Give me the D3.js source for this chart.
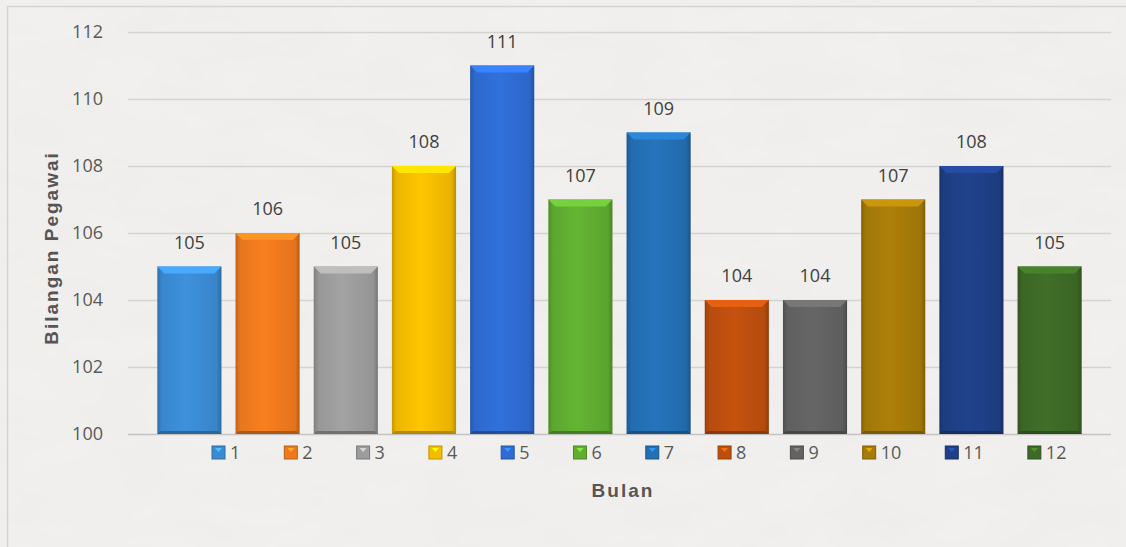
<!DOCTYPE html>
<html>
<head>
<meta charset="utf-8">
<script src="https://cdn.jsdelivr.net/npm/d3@7"></script>
<style>
  html, body { margin: 0; padding: 0; background: #f1f0ee; }
  svg { display: block; font-family: 'Open Sans', 'Noto Sans', sans-serif; }
</style>
</head>
<body>
<div id="chart"></div>
<script>
// data
const months = ['1', '2', '3', '4', '5', '6', '7', '8', '9', '10', '11', '12'];
const employees = [105, 106, 105, 108, 111, 107, 109, 104, 104, 107, 108, 105];
const yTicks = [100, 102, 104, 106, 108, 110, 112];

const barColors = ['#3b8bd3', '#ef7a1e', '#9c9c9c', '#f5bd00', '#2f6cd3', '#60ad31',
  '#246fb4', '#bd4f0e', '#626262', '#a67b08', '#1f3f86', '#3d6a26'];

const W = 1126, H = 547;
const margin = { top: 32, right: 15, bottom: 113, left: 128 };

const svg = d3.select('#chart').append('svg')
  .attr('width', W)
  .attr('height', H);

const defs = svg.append('defs');

// paper texture
const tex = defs.append('filter').attr('id', 'paper')
  .attr('x', 0).attr('y', 0).attr('width', '100%').attr('height', '100%');
tex.append('feTurbulence').attr('type', 'fractalNoise')
  .attr('baseFrequency', '0.012 0.03').attr('numOctaves', 3).attr('seed', 4);
tex.append('feColorMatrix').attr('type', 'matrix')
  .attr('values', '0 0 0 0 0.55  0 0 0 0 0.55  0 0 0 0 0.53  0 0 0 0.09 0');

svg.append('rect').attr('width', W).attr('height', H).attr('fill', '#f2f1ef');
svg.append('rect').attr('width', W).attr('height', H).attr('filter', 'url(#paper)');

// chart frame
svg.append('rect')
  .attr('x', 7.5).attr('y', 6.5)
  .attr('width', W + 20).attr('height', H + 20)
  .attr('fill', 'none')
  .attr('stroke', '#d4d4d4')
  .attr('stroke-width', 1.5);

const x = d3.scaleBand()
  .domain(months)
  .range([margin.left, W - margin.right])
  .paddingInner(0.18)
  .paddingOuter(0.375);

const y = d3.scaleLinear()
  .domain([100, 112])
  .range([H - margin.bottom, margin.top]);

// gridlines
svg.append('g')
  .selectAll('line')
  .data(yTicks)
  .enter().append('line')
  .attr('x1', margin.left)
  .attr('x2', W - margin.right)
  .attr('y1', (d) => Math.round(y(d)) + 0.5)
  .attr('y2', (d) => Math.round(y(d)) + 0.5)
  .attr('stroke', (d) => d === 100 ? '#c4c4c4' : '#d3d3d3')
  .attr('stroke-width', 1.5);

// y axis labels
const yAxis = svg.append('g')
  .attr('transform', `translate(${margin.left}, 0)`)
  .call(d3.axisLeft(y).tickValues(yTicks).tickSize(0).tickPadding(25));
yAxis.select('.domain').remove();
yAxis.selectAll('text')
  .attr('fill', '#595959')
  .style('font-size', '18px')
  .style('font-family', "'Open Sans', sans-serif");

// bar gradients
barColors.forEach((c, i) => {
  const base = d3.color(c);
  const g = defs.append('linearGradient').attr('id', `bar${i}`)
    .attr('x1', 0).attr('x2', 1).attr('y1', 0).attr('y2', 0);
  g.append('stop').attr('offset', '0%').attr('stop-color', base.darker(0.6));
  g.append('stop').attr('offset', '7%').attr('stop-color', base.darker(0.1));
  g.append('stop').attr('offset', '45%').attr('stop-color', base.brighter(0.12));
  g.append('stop').attr('offset', '93%').attr('stop-color', base.darker(0.15));
  g.append('stop').attr('offset', '100%').attr('stop-color', base.darker(0.8));
});

const bars = svg.append('g')
  .selectAll('g')
  .data(months.map((m, i) => ({ key: m, value: employees[i], i })))
  .enter().append('g');

bars.append('rect')
  .attr('x', (d) => x(d.key))
  .attr('y', (d) => y(d.value))
  .attr('width', x.bandwidth())
  .attr('height', (d) => y(100) - y(d.value))
  .attr('fill', (d) => `url(#bar${d.i})`);

// top bevel
const bev = 7;
bars.append('path')
  .attr('d', (d) => {
    const x0 = x(d.key), x1 = x0 + x.bandwidth(), y0 = y(d.value);
    return `M${x0},${y0}L${x1},${y0}L${x1 - bev},${y0 + bev}L${x0 + bev},${y0 + bev}Z`;
  })
  .attr('fill', (d) => d3.color(barColors[d.i]).brighter(0.55));

// bottom edge
bars.append('path')
  .attr('d', (d) => {
    const x0 = x(d.key), x1 = x0 + x.bandwidth(), y1 = y(100);
    return `M${x0},${y1}L${x1},${y1}L${x1 - 3},${y1 - 3}L${x0 + 3},${y1 - 3}Z`;
  })
  .attr('fill', (d) => d3.color(barColors[d.i]).darker(0.9));

// data labels
bars.append('text')
  .attr('x', (d) => x(d.key) + x.bandwidth() / 2)
  .attr('y', (d) => y(d.value) - 18)
  .attr('text-anchor', 'middle')
  .attr('fill', '#404040')
  .style('font-size', '18px')
  .text((d) => d.value);

// legend
const legend = svg.append('g').attr('transform', 'translate(212, 453)');
let lx = 0;
months.forEach((m, i) => {
  const item = legend.append('g').attr('transform', `translate(${lx}, 0)`);
  const c = d3.color(barColors[i]);
  item.append('rect')
    .attr('x', 0).attr('y', -7)
    .attr('width', 13).attr('height', 13)
    .attr('fill', c)
    .attr('stroke', c.darker(0.7))
    .attr('stroke-width', 1);
  item.append('path')
    .attr('d', 'M3,-5L10,-5L6.5,-1Z')
    .attr('fill', c.brighter(0.9));
  const t = item.append('text')
    .attr('x', 18).attr('y', 0)
    .attr('dy', '0.35em')
    .attr('fill', '#595959')
    .style('font-size', '18px')
    .text(m);
  lx += 18 + t.node().getComputedTextLength() + 44;
});

// axis titles
svg.append('text')
  .attr('x', 623)
  .attr('y', 497)
  .attr('text-anchor', 'middle')
  .attr('fill', '#555555')
  .style('font-family', "'Liberation Sans', Arial, sans-serif")
  .style('font-size', '19px')
  .style('font-weight', 'bold')
  .style('letter-spacing', '2px')
  .text('Bulan');

svg.append('text')
  .attr('transform', 'translate(58, 248) rotate(-90)')
  .attr('text-anchor', 'middle')
  .attr('fill', '#555555')
  .style('font-family', "'Liberation Sans', Arial, sans-serif")
  .style('font-size', '19px')
  .style('font-weight', 'bold')
  .style('letter-spacing', '2px')
  .text('Bilangan Pegawai');
</script>
</body>
</html>
